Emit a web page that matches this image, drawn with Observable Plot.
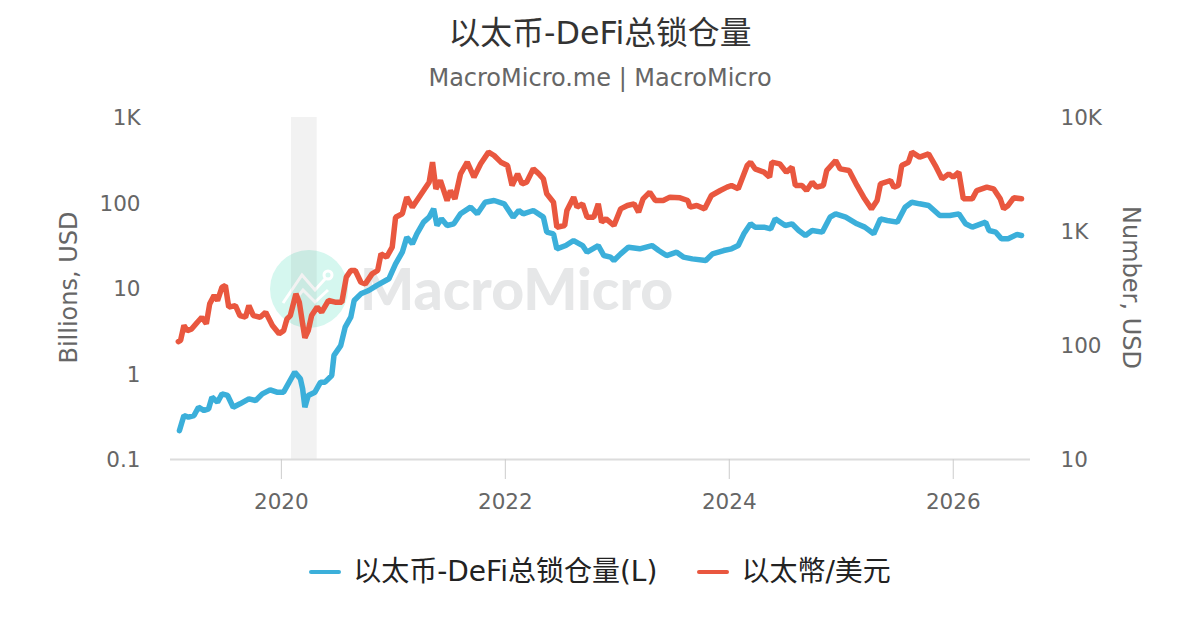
<!DOCTYPE html>
<html>
<head>
<meta charset="utf-8">
<script src="https://cdn.jsdelivr.net/npm/d3@7"></script>
<script src="https://cdn.jsdelivr.net/npm/@observablehq/plot@0.6"></script>
<style>
html,body{margin:0;padding:0;background:#fff}
#page{position:relative;width:1200px;height:630px;overflow:hidden;font-family:"DejaVu Sans","Noto Sans CJK SC",sans-serif}
#page svg{position:absolute;left:0;top:0;background:transparent}
.abs{position:absolute;white-space:nowrap}
#title{left:0;width:1200px;text-align:center;top:13px;font-size:31.8px;line-height:40px;color:#333}
#subtitle{left:0;width:1200px;text-align:center;top:62px;font-size:24px;line-height:32px;color:#666}
#circle{left:270px;top:250px;width:78px;height:78px;border-radius:50%;background:#d5f7ef}
#wm{left:360px;top:252px;font-family:Lato,"DejaVu Sans",sans-serif;font-weight:900;font-size:57px;line-height:72px;color:#e6e7e8;letter-spacing:0}
#legend{left:0;width:1200px;top:554px;display:flex;justify-content:center;align-items:center;font-size:28px;line-height:36px;color:#222}
.sw{display:inline-block;width:32px;height:4px;border-radius:2px;margin-right:12px}
.it{display:flex;align-items:center;margin:0 20px}
</style>
</head>
<body>
<div id="page">
  <div class="abs" id="title">以太币-DeFi总锁仓量</div>
  <div class="abs" id="subtitle">MacroMicro.me | MacroMicro</div>
  <div class="abs" id="circle"></div>
  <svg id="icon" width="1200" height="630" fill="none" stroke="#fff" stroke-width="3" stroke-linejoin="miter">
    <polyline points="283,303 302,275 315,290 325,279"/>
    <circle cx="328" cy="275" r="4"/>
    <polyline points="293,303 303,290 315,302 328,290"/>
  </svg>
  <div class="abs" id="wm">MacroMicro</div>
  <div class="abs" id="legend"></div>
</div>
<script>
const ethYears = [2019.08,2019.10,2019.13,2019.16,2019.20,2019.25,2019.29,2019.33,2019.36,2019.40,2019.43,2019.47,2019.50,2019.53,2019.59,2019.63,2019.68,2019.71,2019.75,2019.81,2019.86,2019.92,2019.98,2020.02,2020.05,2020.08,2020.13,2020.16,2020.19,2020.21,2020.24,2020.27,2020.32,2020.36,2020.42,2020.48,2020.54,2020.58,2020.62,2020.66,2020.71,2020.75,2020.81,2020.86,2020.89,2020.94,2020.99,2021.02,2021.08,2021.12,2021.17,2021.21,2021.27,2021.32,2021.35,2021.38,2021.42,2021.48,2021.51,2021.55,2021.60,2021.66,2021.72,2021.78,2021.85,2021.90,2021.96,2022.02,2022.06,2022.11,2022.15,2022.19,2022.25,2022.30,2022.34,2022.37,2022.43,2022.46,2022.53,2022.55,2022.61,2022.64,2022.69,2022.73,2022.79,2022.83,2022.86,2022.90,2022.97,2023.03,2023.09,2023.15,2023.19,2023.23,2023.29,2023.34,2023.41,2023.47,2023.56,2023.63,2023.65,2023.71,2023.78,2023.84,2023.92,2023.98,2024.02,2024.08,2024.16,2024.19,2024.23,2024.31,2024.36,2024.38,2024.45,2024.51,2024.56,2024.59,2024.65,2024.69,2024.74,2024.78,2024.84,2024.87,2024.95,2024.99,2025.07,2025.14,2025.20,2025.27,2025.32,2025.35,2025.44,2025.47,2025.51,2025.54,2025.60,2025.63,2025.70,2025.78,2025.84,2025.90,2025.96,2026.00,2026.05,2026.09,2026.17,2026.21,2026.30,2026.36,2026.42,2026.45,2026.49,2026.54,2026.61];
const ethValues = [108,111,150,135,140,160,177,155,232,275,248,325,336,217,224,183,177,224,183,177,196,150,127,135,171,183,284,240,155,117,135,183,217,196,248,240,240,398,455,455,359,347,425,455,637,596,729,1335,1429,2001,1635,1870,2288,2709,4057,2367,2802,1870,2288,1934,3204,4057,2997,3923,4966,4642,4057,3792,2533,3204,2619,2709,3546,3204,2897,2140,1809,1091,1129,1528,2001,1635,1750,1335,1335,1750,1208,1292,1129,1580,1691,1750,1478,1934,2213,1870,1870,2001,1974,1870,1635,1691,1580,2069,2288,2449,2533,2367,3792,4057,3546,3315,2997,4057,3923,3315,3667,2533,2533,2288,2709,2449,2533,3429,4197,3546,3429,2533,2001,1580,1870,2619,2802,2449,2533,3792,4057,4966,4487,4800,3792,2897,3204,2997,3315,1934,1934,2288,2449,2367,1934,1580,1691,1974,1934];
const tvlYears = [2019.09,2019.13,2019.17,2019.22,2019.26,2019.31,2019.35,2019.38,2019.43,2019.47,2019.52,2019.57,2019.63,2019.71,2019.77,2019.83,2019.90,2019.96,2020.02,2020.07,2020.12,2020.17,2020.19,2020.21,2020.24,2020.30,2020.35,2020.39,2020.45,2020.47,2020.53,2020.57,2020.62,2020.65,2020.71,2020.78,2020.85,2020.96,2021.02,2021.08,2021.12,2021.17,2021.21,2021.27,2021.32,2021.36,2021.39,2021.43,2021.48,2021.54,2021.60,2021.69,2021.75,2021.82,2021.90,2021.99,2022.07,2022.12,2022.16,2022.25,2022.34,2022.37,2022.43,2022.46,2022.54,2022.61,2022.69,2022.73,2022.83,2022.88,2022.94,2022.97,2023.03,2023.10,2023.20,2023.31,2023.37,2023.44,2023.53,2023.59,2023.67,2023.79,2023.85,2023.95,2024.02,2024.08,2024.13,2024.19,2024.23,2024.31,2024.37,2024.41,2024.50,2024.56,2024.62,2024.68,2024.74,2024.83,2024.90,2024.95,2025.04,2025.14,2025.21,2025.29,2025.35,2025.41,2025.50,2025.57,2025.63,2025.70,2025.78,2025.88,2025.97,2026.05,2026.11,2026.17,2026.29,2026.32,2026.38,2026.43,2026.49,2026.57,2026.61];
const tvlValues = [0.218,0.327,0.313,0.327,0.409,0.374,0.391,0.536,0.469,0.586,0.561,0.409,0.448,0.512,0.490,0.586,0.653,0.613,0.613,0.803,1.05,0.878,0.671,0.409,0.561,0.613,0.803,0.803,0.96,1.65,2.15,3.53,4.62,7.24,8.66,9.47,10.8,13.0,19.4,26.6,39.8,33.3,43.6,59.7,68.3,85.5,54.6,65.3,54.6,57.1,74.7,89.4,74.7,102,107,97.8,68.3,81.7,74.7,81.7,68.3,45.6,43.6,29.1,31.8,36.4,31.8,26.6,31.8,24.3,23.3,21.3,25.4,30.4,29.1,31.8,27.8,24.3,26.6,23.3,22.2,21.3,25.4,27.8,29.1,31.8,43.6,57.1,52.2,52.2,49.9,65.3,54.6,57.1,47.7,41.7,47.7,45.6,68.3,74.7,68.3,57.1,52.2,43.6,65.3,62.4,59.7,89.4,102,97.8,93.5,71.4,71.4,74.7,57.1,52.2,59.7,47.7,45.6,38.1,38.1,42.8,41.7];
const bandStart = [2020.09];
const bandEnd = [2020.32];
const xTicks = [2020,2022,2024,2026];
const leftTicks = [0.1,1,10,100,1000];
const leftLabels = ["0.1","1","10","100","1K"];
const rightTicks = [10,100,1000,10000];
const rightLabels = ["10","100","1K","10K"];
const blue = "#3bafda", red = "#e9573f", grey = "#666";
const legendNames = ["以太币-DeFi总锁仓量(L)","以太幣/美元"];

const frame = {
  width:1200, height:630, marginTop:117, marginBottom:171, marginLeft:170, marginRight:170,
  style:{background:"transparent",fontFamily:'"DejaVu Sans","Noto Sans CJK SC",sans-serif',overflow:"visible"},
  x:{domain:[2019.01,2026.69],axis:null}
};
const tvl = tvlYears.map((x,i)=>({x,y:tvlValues[i]}));
const eth = ethYears.map((x,i)=>({x,y:ethValues[i]}));
const bands = bandStart.map((a,i)=>({a,b:bandEnd[i]}));

const rightPlot = Plot.plot({...frame,
  y:{type:"log",domain:[10,10000]},
  marks:[
    Plot.rectY(bands,{x1:"a",x2:"b",y1:10,y2:10000,fill:"#000",fillOpacity:0.05}),
    Plot.ruleY([10],{stroke:"#dcdcdc",strokeWidth:2}),
    Plot.axisX({ticks:xTicks,tickFormat:"d",tickSize:20,stroke:"#ccc",tickPadding:14,fontSize:21.5,label:null,fill:grey}),
    Plot.axisY({anchor:"right",ticks:rightTicks,tickFormat:d=>rightLabels[rightTicks.indexOf(d)],tickSize:0,tickPadding:30,fontSize:21.5,fill:grey,label:null,dy:1}),
    Plot.text(["Number, USD"],{frameAnchor:"right",textAnchor:"middle",rotate:90,dx:100,dy:-1,fontSize:24,fill:grey}),
    Plot.line(eth,{x:"x",y:"y",stroke:red,strokeWidth:5.5,strokeLinejoin:"miter"})
  ]
});
const leftPlot = Plot.plot({...frame,
  y:{type:"log",domain:[0.1,1000]},
  marks:[
    Plot.axisY({anchor:"left",ticks:leftTicks,tickFormat:d=>leftLabels[leftTicks.indexOf(d)],tickSize:0,tickPadding:30,fontSize:21.5,fill:grey,label:null,dy:1}),
    Plot.text(["Billions, USD"],{frameAnchor:"left",textAnchor:"middle",rotate:-90,dx:-101,dy:-1,fontSize:24,fill:grey}),
    Plot.line(tvl,{x:"x",y:"y",stroke:blue,strokeWidth:5.5,strokeLinejoin:"miter"})
  ]
});
const page = document.getElementById("page");
page.appendChild(rightPlot);
page.appendChild(leftPlot);
const legend = document.getElementById("legend");
[[legendNames[0],blue],[legendNames[1],red]].forEach(([n,c])=>{
  const it=document.createElement("div");it.className="it";
  const s=document.createElement("span");s.className="sw";s.style.background=c;
  const t=document.createElement("span");t.textContent=n;
  it.append(s,t);legend.appendChild(it);
});
</script>
</body>
</html>
